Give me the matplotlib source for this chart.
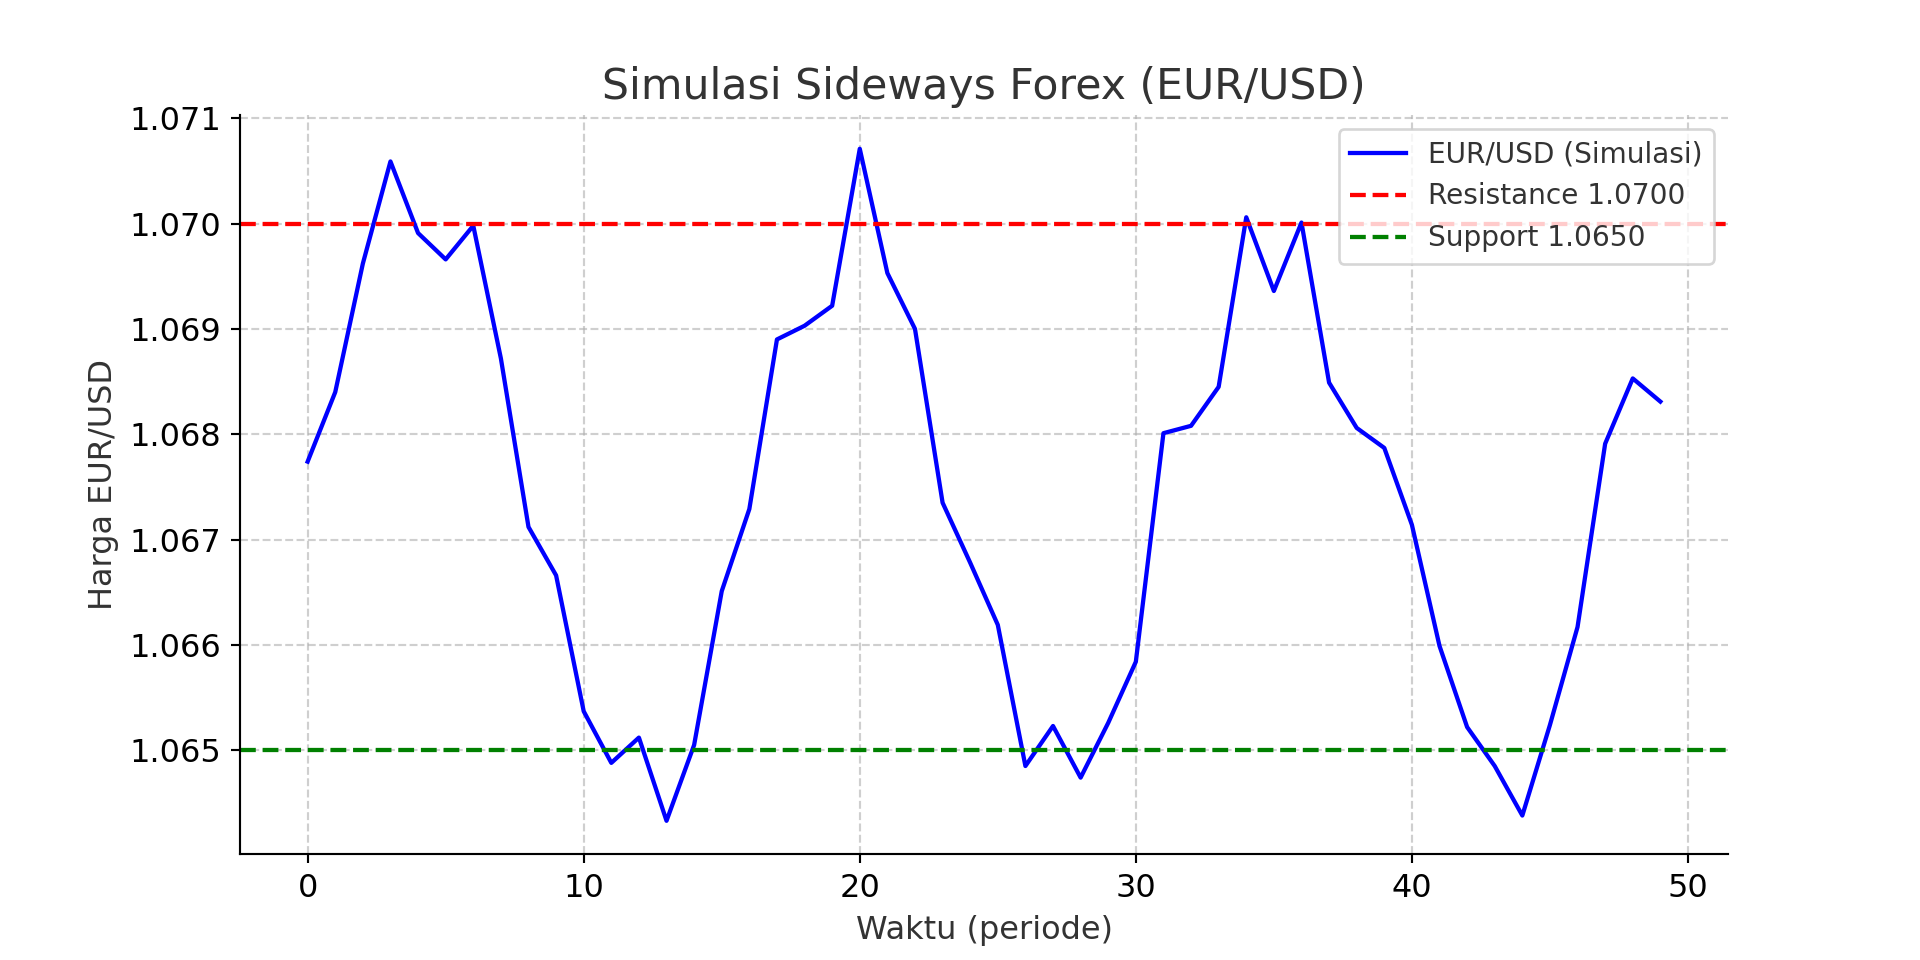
import numpy as np
import matplotlib.pyplot as plt

periods = list(range(50))
prices = [1.06774, 1.06840, 1.06962, 1.07059, 1.06991, 1.06966, 1.06998, 1.06872, 1.06712, 1.06666,
          1.06537, 1.06488, 1.06512, 1.06433, 1.06505, 1.06651, 1.06729, 1.06890, 1.06903, 1.06922,
          1.07071, 1.06953, 1.06900, 1.06735, 1.06678, 1.06619, 1.06485, 1.06523, 1.06474, 1.06526,
          1.06584, 1.06801, 1.06808, 1.06845, 1.07006, 1.06936, 1.07001, 1.06849, 1.06806, 1.06787,
          1.06714, 1.06599, 1.06522, 1.06485, 1.06438, 1.06524, 1.06617, 1.06791, 1.06853, 1.06831]
resistance = 1.0700
support = 1.0650

plt.rcParams['text.color'] = '#333333'
plt.rcParams['axes.labelcolor'] = '#333333'

fig, ax = plt.subplots(figsize=(10, 5), dpi=192)

ax.plot(periods, prices, color='blue', linewidth=1.6, label='EUR/USD (Simulasi)')
ax.axhline(resistance, color='red', linestyle='--', linewidth=1.6, label='Resistance 1.0700')
ax.axhline(support, color='green', linestyle='--', linewidth=1.6, label='Support 1.0650')

ax.set_title('Simulasi Sideways Forex (EUR/USD)', fontsize=16)
ax.set_xlabel('Waktu (periode)', fontsize=12)
ax.set_ylabel('Harga EUR/USD', fontsize=12)
ax.tick_params(labelsize=12)
ax.grid(True, linestyle='--', alpha=0.6)
ax.spines['top'].set_visible(False)
ax.spines['right'].set_visible(False)
ax.legend(loc='upper right', fontsize=10.5)

fig.savefig('out.png')
